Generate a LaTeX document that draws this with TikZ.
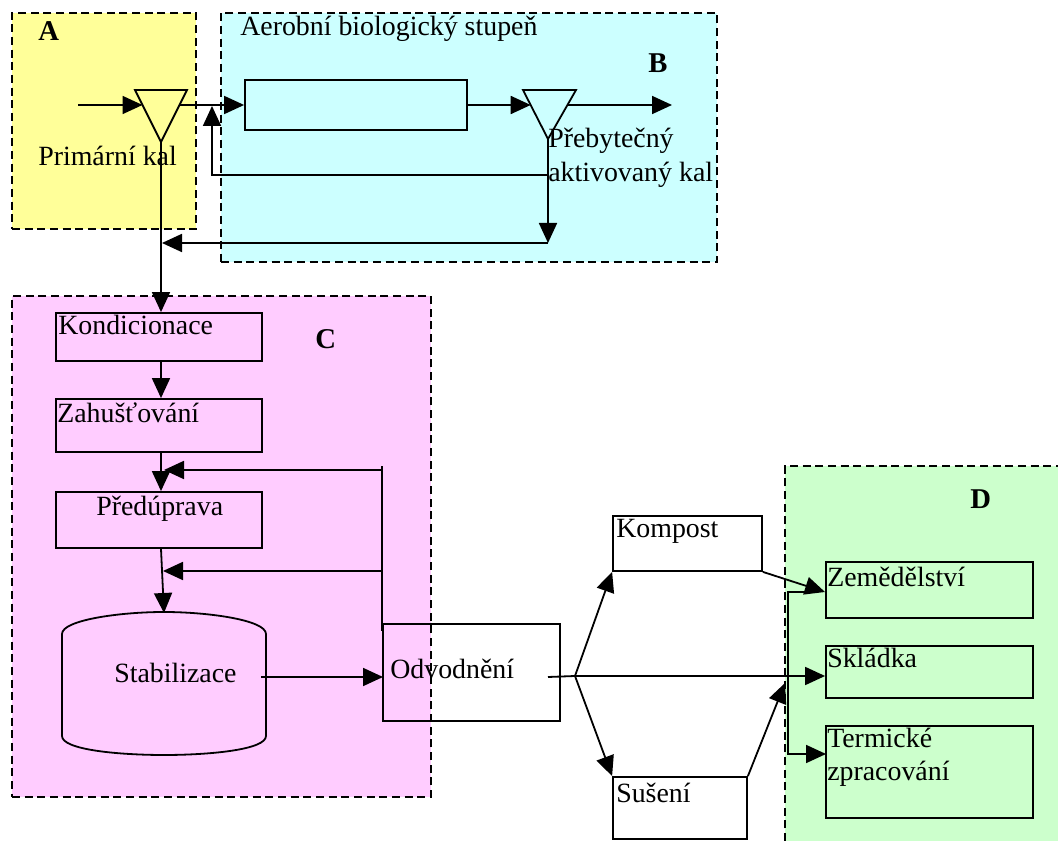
\documentclass[tikz,border=0pt]{standalone}
\usepackage{fontspec}
\setmainfont{Liberation Serif}
\usetikzlibrary{arrows.meta,fit}
\definecolor{zoneA}{HTML}{FFFF99}
\definecolor{zoneB}{HTML}{CCFFFF}
\definecolor{zoneC}{HTML}{FFCCFF}
\definecolor{zoneD}{HTML}{CCFFCC}
\begin{document}
\begin{tikzpicture}[x=0.75pt,y=-0.75pt,
  zone/.style={draw, dash pattern=on 6pt off 3.5pt, line width=1.7pt, inner sep=0pt},
  box/.style={draw, line width=1.35pt, inner sep=0pt},
  lbl/.style={anchor=base west, inner sep=0pt, font=\fontsize{20.9}{24.5}\selectfont},
  big/.style={anchor=base west, inner sep=0pt, font=\fontsize{21.5}{24.5}\selectfont\bfseries},
  flow/.style={line width=1.35pt, -{Triangle[length=15pt,width=13.5pt]}},
  plain/.style={line width=1.35pt}]
\useasboundingbox (0,0) rectangle (1058,841);

% zones
\node[zone, fill=zoneA, fit={(12,13) (196,229)}] (zA) {};
\node[zone, fill=zoneB, fit={(221,13) (717,262)}] (zB) {};
\node[zone, fill=zoneC, fit={(12,296) (431,797)}] (zC) {};
\fill[zoneD] (785,466) rectangle (1058,841);
\draw[zone] (785,841) -- (785,466) -- (1058,466);

% zone labels
\node[big] (lA) at (38,41) {A};
\node[big] (lB) at (648,73) {B};
\node[big] (lC) at (315,349) {C};
\node[big] (lD) at (970,509) {D};
\node[lbl] (laer) at (240,36) {Aerobní biologický stupeň};

% triangles (settling tanks)
\coordinate (t1a) at (135,90); \coordinate (t1b) at (187,90); \coordinate (t1c) at (161,142);
\coordinate (t2a) at (523,90); \coordinate (t2b) at (576,90); \coordinate (t2c) at (548,139);
\draw[box] (t1a) -- (t1b) -- (t1c) -- cycle;
\draw[box] (t2a) -- (t2b) -- (t2c) -- cycle;
\coordinate (t1in) at (142.5,105); \coordinate (t1out) at (179.5,105);
\coordinate (t2in) at (530.7,105); \coordinate (t2out) at (567.4,105);

% aeration tank
\node[box, fit={(245,80) (467,130)}] (aer) {};

\node[lbl] (lprim) at (38,166) {Primární kal};
\node[lbl] (lpreb) at (548,148) {Přebytečný};
\node[lbl] (lpreb2) at (548,182) {aktivovaný kal};

\coordinate (inlet) at (78,105);
\coordinate (outlet) at (672,105);
\draw[flow] (inlet) -- (t1in);
\draw[flow] (t1out) -- (aer.west);
\draw[flow] (aer.east) -- (t2in);
\draw[flow] (t2out) -- (outlet);

\coordinate (r1) at (548,175); \coordinate (r2) at (212,175); \coordinate (r3) at (212,106);
\draw[flow] (r1) -- (r2) -- (r3);
\coordinate (e1) at (548,243); \coordinate (e2) at (162,243);
\draw[flow] (t2c) -- (e1);
\draw[flow] (e1) -- (e2);

% C boxes
\node[box, fit={(56,313) (262,361)}] (kond) {};
\node[box, fit={(56,399) (262,452)}] (zah) {};
\node[box, fit={(56,492) (262,548)}] (pred) {};
\node[lbl] (lkond) at (58,335) {Kondicionace};
\node[lbl] (lzah) at (57,423) {Zahušťování};
\node[lbl] (lpred) at (96,516) {Předúprava};

\draw[flow] (t1c) -- (t1c |- kond.north);
\draw[flow] (t1c |- kond.south) -- (t1c |- zah.north);
\draw[flow] (t1c |- zah.south) -- (t1c |- pred.north);

% stabilization tank
\draw[box] (62,736) -- (62,634) .. controls (62,620) and (120,612) .. (164,612)
  .. controls (208,612) and (266,620) .. (266,634) -- (266,736)
  .. controls (266,750) and (208,755) .. (164,755)
  .. controls (120,755) and (62,750) .. (62,736) -- cycle;
\coordinate (stabtop) at (164,613);
\node[lbl] (lstab) at (114,683) {Stabilizace};
\draw[flow] (t1c |- pred.south) -- (stabtop);

% dewatering
\node[box, fit={(383,624) (560,721)}] (odv) {};
\node[lbl] (lodv) at (390,679) {Odvodnění};
\coordinate (stabout) at (261,677); \coordinate (odvin) at (383,677);
\draw[flow] (stabout) -- (odvin);

% recycle from dewatering
\coordinate (fbb) at (382,631); \coordinate (fbt) at (382,466);
\coordinate (fb1) at (382,470); \coordinate (fb1t) at (164,470);
\coordinate (fb2) at (382,571); \coordinate (fb2t) at (163,571);
\draw[plain] (fbb) -- (fbt);
\draw[flow] (fb1) -- (fb1t);
\draw[flow] (fb2) -- (fb2t);

% further treatment
\node[box, fit={(613,516) (762,571)}] (komp) {};
\node[box, fit={(613,777) (747,839)}] (sus) {};
\node[lbl] (lkomp) at (616,538) {Kompost};
\node[lbl] (lsus) at (616,802) {Sušení};

% D boxes
\node[box, fit={(826,562) (1033,618)}] (zem) {};
\node[box, fit={(826,646) (1033,698)}] (skl) {};
\node[box, fit={(826,726) (1033,818)}] (term) {};
\node[lbl] (lzem) at (827,587) {Zemědělství};
\node[lbl] (lskl) at (827,668) {Skládka};
\node[lbl] (lterm) at (827,748) {Termické};
\node[lbl] (lterm2) at (827,780) {zpracování};

\coordinate (odvout) at (548,677);
\coordinate (branch) at (575,676);
\draw[plain] (odvout) -- (branch);
\draw[flow] (branch) -- (komp.south west);
\draw[flow] (branch) -- (sus.north west);
\draw[flow] (branch) -- (skl.west |- branch);
\coordinate (susend) at (785,683);
\draw[flow] (sus.north east) -- (susend);
\coordinate (zemin) at (825,592);
\draw[flow] (komp.south east) -- (zemin);
\coordinate (d1) at (806,592); \coordinate (d2) at (788,592); \coordinate (d3) at (788,754);
\coordinate (termin) at (826,754);
\draw[flow] (d1) -- (d2) -- (d3) -- (termin);
\end{tikzpicture}
\end{document}
